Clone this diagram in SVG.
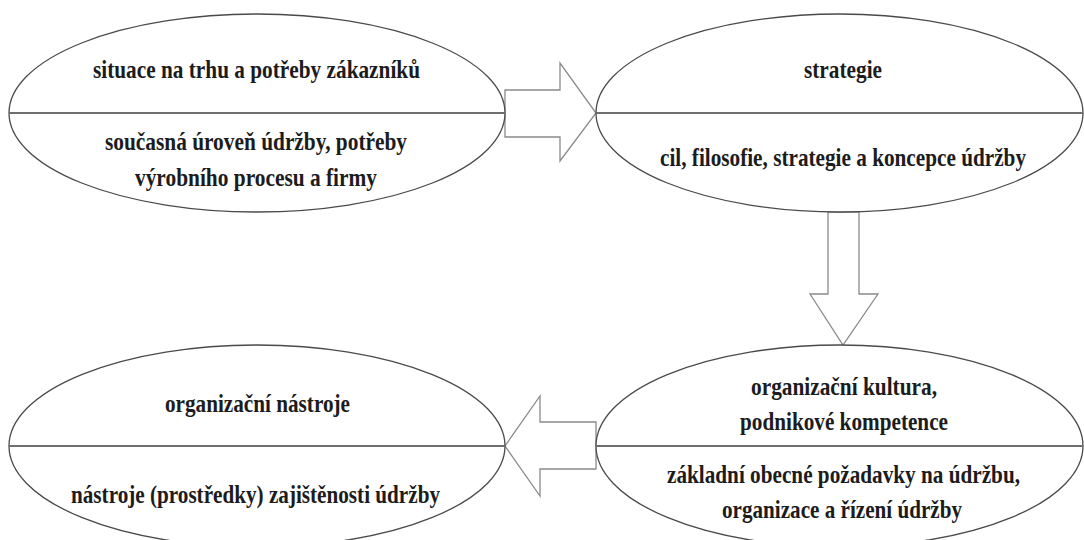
<svg xmlns="http://www.w3.org/2000/svg" width="1084" height="540" viewBox="0 0 1084 540">
  <style>
    .oval { fill: #ffffff; stroke: #4a4a4a; stroke-width: 1.3; }
    .divider { stroke: #6e6e6e; stroke-width: 2; fill: none; }
    .arrow { fill: #ffffff; stroke: #8a8a8a; stroke-width: 1.3; stroke-linejoin: miter; }
    .lbl { font-family: "Liberation Serif", "Times New Roman", serif; font-weight: bold; font-size: 26px; fill: #1c1c1c; text-anchor: middle; }
  </style>
  <rect width="1084" height="540" fill="#ffffff"/>

  <!-- block arrows between the ovals -->
  <g id="connectors">
    <polygon class="arrow" points="505,90 560,90 560,63 596,113 560,161 560,137 505,137"/>
    <polygon class="arrow" points="828,212 859,212 859,294 878,294 843,345 810,294 828,294"/>
    <polygon class="arrow" points="505,446 540,396 540,422 596,422 596,469 540,469 540,496"/>
  </g>

  <g id="trh">
    <ellipse class="oval" cx="257" cy="113" rx="248" ry="99"/>
    <line class="divider" x1="9" y1="113" x2="505" y2="113"/>
    <text class="lbl" x="256.5" y="78" textLength="327" lengthAdjust="spacingAndGlyphs">situace na trhu a potřeby zákazníků</text>
    <text class="lbl" x="256" y="150" textLength="302" lengthAdjust="spacingAndGlyphs">současná úroveň údržby, potřeby</text>
    <text class="lbl" x="256" y="186" textLength="242" lengthAdjust="spacingAndGlyphs">výrobního procesu a firmy</text>
  </g>

  <g id="strategie">
    <ellipse class="oval" cx="839.5" cy="113" rx="243.5" ry="99"/>
    <line class="divider" x1="596" y1="113" x2="1083" y2="113"/>
    <text class="lbl" x="843" y="78" textLength="78" lengthAdjust="spacingAndGlyphs">strategie</text>
    <text class="lbl" x="843" y="166" textLength="366" lengthAdjust="spacingAndGlyphs">cil, filosofie, strategie a koncepce údržby</text>
  </g>

  <g id="kultura">
    <ellipse class="oval" cx="839.5" cy="446" rx="243.5" ry="101"/>
    <line class="divider" x1="596" y1="446" x2="1083" y2="446"/>
    <text class="lbl" x="844" y="395" textLength="186" lengthAdjust="spacingAndGlyphs">organizační kultura,</text>
    <text class="lbl" x="844" y="430" textLength="208" lengthAdjust="spacingAndGlyphs">podnikové kompetence</text>
    <text class="lbl" x="843.5" y="483" textLength="353" lengthAdjust="spacingAndGlyphs">základní obecné požadavky na údržbu,</text>
    <text class="lbl" x="842" y="518" textLength="240" lengthAdjust="spacingAndGlyphs">organizace a řízení údržby</text>
  </g>

  <g id="nastroje">
    <ellipse class="oval" cx="257" cy="446" rx="248" ry="101"/>
    <line class="divider" x1="9" y1="446" x2="505" y2="446"/>
    <text class="lbl" x="257.5" y="412" textLength="185" lengthAdjust="spacingAndGlyphs">organizační nástroje</text>
    <text class="lbl" x="255.5" y="503" textLength="369" lengthAdjust="spacingAndGlyphs">nástroje (prostředky) zajištěnosti údržby</text>
  </g>
</svg>
